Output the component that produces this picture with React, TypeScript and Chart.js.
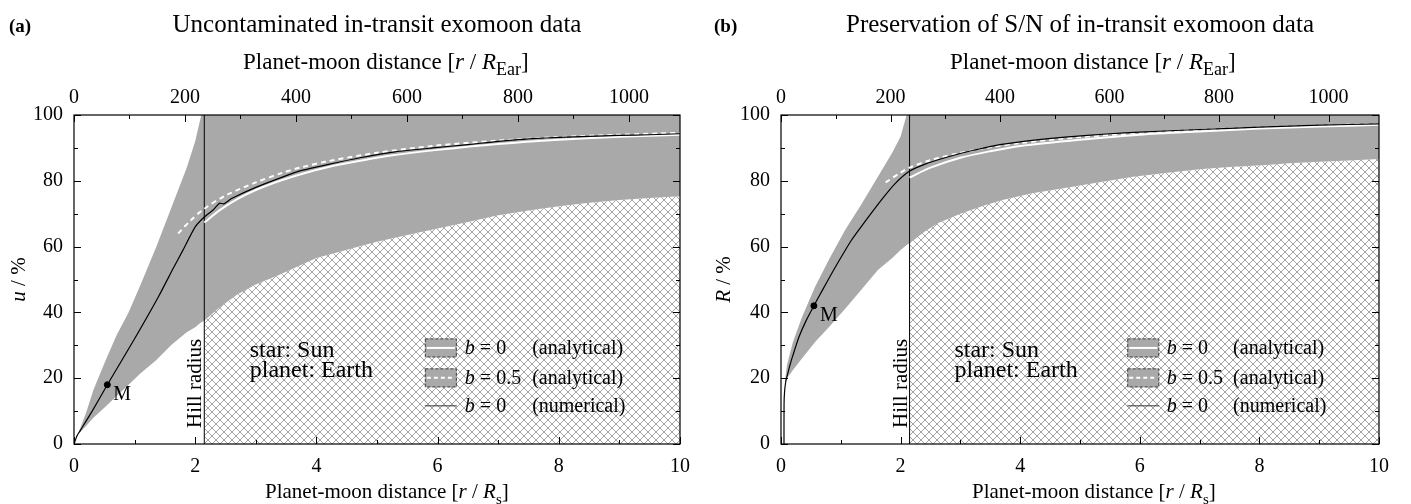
import React, { useEffect, useRef } from 'react';
import { Chart, registerables } from 'chart.js';
Chart.register(...registerables);

const SERIF = '"Liberation Serif", "Times New Roman", Times, serif';

// ---------- shared axis data ----------
const HILL_RADIUS = 2.15; // r / R_s
const SUN_IN_EARTH_RADII = 109.2; // top axis conversion
const xTicks = [0, 2, 4, 6, 8, 10];
const xMinorTicks = [1, 3, 5, 7, 9];
const topTicks = [0, 200, 400, 600, 800, 1000];
const topMinorTicks = [100, 300, 500, 700, 900];
const yTicks = [0, 20, 40, 60, 80, 100];
const yMinorTicks = [10, 30, 50, 70, 90];

// ---------- panel (a): uncontaminated data u ----------
const aBandX = [0, 0.07, 0.2, 0.32, 0.5, 0.7, 0.9, 1.1, 1.36, 1.6, 1.86, 2.0, 2.1, 2.15, 2.4, 2.7, 3.0, 3.4, 3.7, 4.0, 4.4, 4.7, 5.0, 5.5, 6.0, 6.5, 7.0, 7.5, 8.0, 8.5, 9.0, 9.5, 10];
const aBandUpper = [0, 3.2, 9.5, 16.4, 24.5, 33, 40, 48.5, 60, 71.5, 84, 92, 100, 100, 100, 100, 100, 100, 100, 100, 100, 100, 100, 100, 100, 100, 100, 100, 100, 100, 100, 100, 100];
const aBandLower = [0, 3, 5.5, 8, 11, 14.5, 18, 21.5, 25.5, 30, 34, 35.5, 37, 37.5, 41.5, 45.5, 48.5, 51.5, 54, 56.5, 58.5, 60, 61.5, 63.5, 65.5, 67.5, 69.5, 71, 72.3, 73.3, 74.2, 74.8, 75.3];
const aNumX = [0, 0.05, 0.1, 0.3, 0.55, 1.0, 1.4, 1.64, 1.8, 2.0, 2.15, 2.3, 2.4, 2.47, 2.6, 3.0, 3.45, 3.73, 4.2, 4.72, 5.3, 5.92, 6.5, 7.0, 7.57, 8.0, 8.5, 9.0, 9.5, 10];
const aNumY = [0, 2.5, 4, 10, 18, 32, 45, 53.5, 59, 66, 69, 71.2, 73.2, 73, 74.6, 78, 81.2, 83, 85, 87, 88.8, 90, 91, 92, 92.8, 93.2, 93.5, 93.8, 94, 94.3];
const aB0X = [2.15, 2.4, 2.7, 3.0, 3.4, 3.8, 4.2, 4.7, 5.2, 6.0, 7.0, 8.0, 9.0, 10];
const aB0Y = [67.3, 71, 74.5, 77.2, 80, 82.3, 84.2, 86, 87.6, 89.4, 91.2, 92.5, 93.4, 94];
const aB05X = [1.72, 1.9, 2.15, 2.5, 3.0, 3.45, 3.73, 4.2, 5.0, 5.92, 7.0, 8.0, 9.0, 10];
const aB05Y = [64, 67.5, 71.5, 75.5, 79.5, 82.5, 84, 86, 88.5, 90.6, 92.2, 93.3, 94, 94.6];
const aMoon = [0.55, 18];

// ---------- panel (b): preservation of S/N, R ----------
const bBandX = [0.06, 0.1, 0.2, 0.35, 0.57, 0.8, 1.07, 1.35, 1.62, 1.86, 2.0, 2.1, 2.15, 2.4, 2.63, 3.0, 3.4, 3.7, 4.2, 4.75, 5.3, 5.89, 6.5, 7.0, 7.5, 8.12, 8.5, 9.0, 9.5, 10];
const bBandUpper = [18, 24, 31, 38.5, 47.8, 56, 65, 73, 81.2, 88.5, 93.5, 100, 100, 100, 100, 100, 100, 100, 100, 100, 100, 100, 100, 100, 100, 100, 100, 100, 100, 100];
const bBandLower = [18, 20, 22.5, 26, 31, 35.5, 41, 47, 52.9, 56.5, 59, 60.5, 61, 64.5, 67.2, 70, 72.5, 74.2, 76.2, 77.8, 79.5, 81.2, 82.5, 83.5, 84.2, 84.8, 85.3, 85.8, 86.2, 86.6];
const bNumX = [0.05, 0.051, 0.06, 0.08, 0.1, 0.15, 0.2, 0.3, 0.42, 0.55, 0.7, 0.9, 1.18, 1.4, 1.68, 1.9, 2.14, 2.4, 2.8, 3.2, 3.66, 4.2, 4.75, 5.5, 6.0, 7.0, 8.0, 9.0, 10];
const bNumY = [0, 12, 16, 19, 20.5, 24, 27, 32.5, 37.5, 42, 47, 53.5, 62, 67.5, 74.2, 79, 82.8, 85, 87.3, 89.2, 91, 92.3, 93.3, 94.3, 94.8, 95.6, 96.3, 96.9, 97.3];
const bB0X = [2.15, 2.5, 3.0, 3.5, 4.0, 5.0, 6.0, 7.0, 8.0, 9.0, 10];
const bB0Y = [81, 84, 87, 89, 90.6, 92.5, 94, 95, 95.9, 96.5, 97];
const bB05X = [1.75, 2.0, 2.15, 2.5, 3.0, 3.5, 4.0, 5.0, 6.0, 7.0, 8.0, 9.0, 10];
const bB05Y = [79.5, 82.5, 84, 86.3, 88.5, 90.2, 91.5, 93.3, 94.5, 95.5, 96.2, 96.8, 97.3];
const bMoon = [0.55, 42];

const GRAY = '#a9a9a9';

type Seg = { t: string; i?: boolean; b?: boolean; sub?: boolean };

function fontFor(s: Seg, size: number, subRatio: number) {
  const sz = s.sub ? Math.round(size * subRatio) : size;
  return `${s.i ? 'italic ' : ''}${s.b ? 'bold ' : ''}${sz}px ${SERIF}`;
}

function drawRich(ctx: CanvasRenderingContext2D, segs: Seg[], x: number, y: number, size: number, align: 'left' | 'center', subRatio = 0.72) {
  ctx.textBaseline = 'alphabetic';
  ctx.textAlign = 'left';
  let w = 0;
  segs.forEach((s) => {
    ctx.font = fontFor(s, size, subRatio);
    w += ctx.measureText(s.t).width;
  });
  let cx = align === 'center' ? x - w / 2 : x;
  segs.forEach((s) => {
    ctx.font = fontFor(s, size, subRatio);
    ctx.fillText(s.t, cx, s.sub ? y + size * 0.28 : y);
    cx += ctx.measureText(s.t).width;
  });
}

type Spec = {
  letter: string;
  title: string;
  yVar: string;
  bandX: number[];
  bandUpper: number[];
  bandLower: number[];
  numX: number[];
  numY: number[];
  b0X: number[];
  b0Y: number[];
  b05X: number[];
  b05Y: number[];
  moon: number[];
  padLeft: number;
  padRight: number;
  width: number;
};

function makeHatch(): CanvasPattern | string {
  const c = document.createElement('canvas');
  c.width = 8;
  c.height = 8;
  const g = c.getContext('2d');
  if (!g) return '#fff';
  g.fillStyle = '#ffffff';
  g.fillRect(0, 0, 8, 8);
  g.strokeStyle = '#a4a4a4';
  g.lineWidth = 1;
  g.beginPath();
  g.moveTo(-1, -1);
  g.lineTo(9, 9);
  g.moveTo(9, -1);
  g.lineTo(-1, 9);
  g.stroke();
  return g.createPattern(c, 'repeat') || '#fff';
}

const pts = (xs: number[], ys: number[]) => xs.map((x, i) => ({ x, y: ys[i] }));

const PLOT_TOP = 115;
const PLOT_BOTTOM_GAP = 60;

function Panel({ spec, left }: { spec: Spec; left: number }) {
  const ref = useRef<HTMLCanvasElement>(null);
  useEffect(() => {
    const canvas = ref.current;
    if (!canvas) return;
    const hatch = makeHatch();
    const band = pts(spec.bandX, spec.bandLower);
    const hatchPts = band.filter((p) => p.x >= HILL_RADIUS);

    const decor = {
      id: 'decor',
      afterDatasetsDraw(chart: any) {
        const { ctx, chartArea: a, scales } = chart;
        const sx = scales.x;
        const sy = scales.y;
        const st = scales.x2;
        const cxm = (a.left + a.right) / 2;
        ctx.save();
        ctx.strokeStyle = '#000';
        // frame
        ctx.lineWidth = 1.2;
        ctx.strokeRect(a.left, a.top, a.right - a.left, a.bottom - a.top);
        ctx.lineWidth = 1;
        const seg = (x1: number, y1: number, x2: number, y2: number) => {
          ctx.beginPath();
          ctx.moveTo(x1, y1);
          ctx.lineTo(x2, y2);
          ctx.stroke();
        };
        const MAJ = 7;
        const MIN = 4;
        xTicks.forEach((v) => { const p = Math.round(sx.getPixelForValue(v)) + 0.5; seg(p, a.bottom, p, a.bottom - MAJ); });
        xMinorTicks.forEach((v) => { const p = Math.round(sx.getPixelForValue(v)) + 0.5; seg(p, a.bottom, p, a.bottom - MIN); });
        topTicks.forEach((v) => { const p = Math.round(st.getPixelForValue(v)) + 0.5; seg(p, a.top, p, a.top + MAJ); });
        topMinorTicks.forEach((v) => { const p = Math.round(st.getPixelForValue(v)) + 0.5; seg(p, a.top, p, a.top + MIN); });
        yTicks.forEach((v) => {
          const p = Math.round(sy.getPixelForValue(v)) + 0.5;
          seg(a.left, p, a.left + MAJ, p);
          seg(a.right, p, a.right - MAJ, p);
        });
        yMinorTicks.forEach((v) => {
          const p = Math.round(sy.getPixelForValue(v)) + 0.5;
          seg(a.left, p, a.left + MIN, p);
          seg(a.right, p, a.right - MIN, p);
        });

        ctx.fillStyle = '#000';
        // panel letter and title
        drawRich(ctx, [{ t: spec.letter, b: true }], 9, 32, 19, 'left');
        drawRich(ctx, [{ t: spec.title }], cxm, 32, 25, 'center');
        // top axis title
        drawRich(ctx, [{ t: 'Planet-moon distance [' }, { t: 'r', i: true }, { t: ' / ' }, { t: 'R', i: true }, { t: 'Ear', sub: true }, { t: ']' }], a.left + 169, 69, 23, 'left', 0.78);
        // bottom axis title
        drawRich(ctx, [{ t: 'Planet-moon distance [' }, { t: 'r', i: true }, { t: ' / ' }, { t: 'R', i: true }, { t: 's', sub: true }, { t: ']' }], a.left + 191, 498, 21, 'left');
        // y axis title (rotated)
        ctx.save();
        ctx.translate(25, (a.top + a.bottom) / 2);
        ctx.rotate(-Math.PI / 2);
        drawRich(ctx, [{ t: spec.yVar, i: true }, { t: ' / %' }], 0, 0, 21, 'center');
        ctx.restore();
        // Hill radius label
        const hx = sx.getPixelForValue(HILL_RADIUS);
        ctx.save();
        ctx.translate(hx - 3, a.bottom - 16);
        ctx.rotate(-Math.PI / 2);
        drawRich(ctx, [{ t: 'Hill radius' }], 0, 0, 21, 'left');
        ctx.restore();
        // Moon label
        const mx = sx.getPixelForValue(spec.moon[0]);
        const my = sy.getPixelForValue(spec.moon[1]);
        drawRich(ctx, [{ t: 'M' }], mx + 6, my + 15, 20, 'left');
        // star / planet
        const sxp = sx.getPixelForValue(2.9);
        drawRich(ctx, [{ t: 'star: Sun' }], sxp, sy.getPixelForValue(26.4), 24, 'left');
        drawRich(ctx, [{ t: 'planet: Earth' }], sxp, sy.getPixelForValue(20.3), 24, 'left');
        // legend
        const bx0 = sx.getPixelForValue(5.79);
        const bw = 32;
        const bh = 19;
        const rows = [29.2, 20.1, 11.6].map((v) => sy.getPixelForValue(v));
        [0, 1].forEach((k) => {
          const cy = rows[k];
          ctx.fillStyle = GRAY;
          ctx.fillRect(bx0, cy - bh / 2, bw, bh);
          ctx.strokeStyle = '#444';
          ctx.setLineDash([3, 2]);
          ctx.strokeRect(bx0 + 0.5, cy - bh / 2 + 0.5, bw - 1, bh - 1);
          ctx.strokeStyle = '#fff';
          ctx.lineWidth = 2;
          ctx.setLineDash(k === 0 ? [] : [4, 3]);
          seg(bx0 + 2, cy, bx0 + bw - 2, cy);
          ctx.setLineDash([]);
          ctx.lineWidth = 1;
        });
        ctx.strokeStyle = '#333';
        seg(bx0, rows[2], bx0 + bw, rows[2]);
        ctx.fillStyle = '#000';
        const tx = sx.getPixelForValue(6.45);
        const tx2 = sx.getPixelForValue(7.56);
        const labels: [string, string][] = [[' = 0', '(analytical)'], [' = 0.5', '(analytical)'], [' = 0', '(numerical)']];
        labels.forEach(([v, kind], k) => {
          drawRich(ctx, [{ t: 'b', i: true }, { t: v }], tx, rows[k] + 6, 20, 'left');
          drawRich(ctx, [{ t: kind }], tx2, rows[k] + 6, 20, 'left');
        });
        ctx.restore();
      },
    };

    const tickFont = { family: SERIF, size: 20 };
    const hidden = { display: false, drawTicks: false };
    const plain = (v: any) => String(v);
    const chart = new Chart(canvas, {
      type: 'line',
      data: {
        datasets: [
          { label: 'numerical', data: pts(spec.numX, spec.numY), borderColor: '#000', borderWidth: 1.2, pointRadius: 0, tension: 0.2, fill: false, order: 1 },
          { label: 'M', data: [{ x: spec.moon[0], y: spec.moon[1] }], showLine: false, pointRadius: 3, pointBackgroundColor: '#000', pointBorderColor: '#000', order: 0 },
          { label: 'b=0.5', data: pts(spec.b05X, spec.b05Y), borderColor: '#fff', borderWidth: 2, borderDash: [5, 4], pointRadius: 0, tension: 0.3, fill: false, order: 2 },
          { label: 'b=0', data: pts(spec.b0X, spec.b0Y), borderColor: '#fff', borderWidth: 2, pointRadius: 0, tension: 0.3, fill: false, order: 3 },
          { label: 'hill', data: [{ x: HILL_RADIUS, y: 0 }, { x: HILL_RADIUS, y: 100 }], borderColor: '#000', borderWidth: 1, pointRadius: 0, fill: false, order: 4 },
          { label: 'band upper', data: pts(spec.bandX, spec.bandUpper), borderWidth: 0, borderColor: 'rgba(0,0,0,0)', pointRadius: 0, fill: false, order: 6 },
          { label: 'band lower', data: band, borderWidth: 0, borderColor: 'rgba(0,0,0,0)', backgroundColor: GRAY, pointRadius: 0, fill: '-1', order: 5 },
          { label: 'hatch', data: hatchPts, borderWidth: 0, borderColor: 'rgba(0,0,0,0)', backgroundColor: hatch as any, pointRadius: 0, fill: 'origin', order: 7 },
        ],
      } as any,
      options: {
        animation: false,
        responsive: false,
        events: [],
        layout: { padding: { left: 0, right: spec.padRight, top: 0, bottom: 0 } },
        plugins: { legend: { display: false }, tooltip: { enabled: false }, title: { display: false } },
        scales: {
          x: {
            type: 'linear', position: 'bottom', min: 0, max: 10,
            afterBuildTicks: (s: any) => { s.ticks = xTicks.map((v) => ({ value: v })); },
            afterFit: (s: any) => { s.height = PLOT_BOTTOM_GAP; },
            ticks: { font: tickFont, color: '#000', padding: 11, maxRotation: 0, autoSkip: false, callback: plain },
            grid: hidden, border: { display: false },
          },
          x2: {
            type: 'linear', position: 'top', min: 0, max: 10 * SUN_IN_EARTH_RADII,
            afterBuildTicks: (s: any) => { s.ticks = topTicks.map((v) => ({ value: v })); },
            afterFit: (s: any) => { s.height = PLOT_TOP; },
            ticks: { font: tickFont, color: '#000', padding: 5, maxRotation: 0, autoSkip: false, callback: plain },
            grid: hidden, border: { display: false },
          },
          y: {
            type: 'linear', position: 'left', min: 0, max: 100,
            afterBuildTicks: (s: any) => { s.ticks = yTicks.map((v) => ({ value: v })); },
            afterFit: (s: any) => { s.width = spec.padLeft; },
            ticks: { font: tickFont, color: '#000', padding: 11, autoSkip: false, callback: plain },
            grid: hidden, border: { display: false },
          },
        },
      } as any,
      plugins: [decor],
    });
    return () => chart.destroy();
  }, [spec]);
  return (
    <div style={{ position: 'absolute', left, top: 0, width: spec.width, height: 504 }}>
      <canvas ref={ref} width={spec.width} height={504} style={{ width: spec.width, height: 504, display: 'block' }} />
    </div>
  );
}

const specA: Spec = {
  letter: '(a)', title: 'Uncontaminated in-transit exomoon data', yVar: 'u',
  bandX: aBandX, bandUpper: aBandUpper, bandLower: aBandLower,
  numX: aNumX, numY: aNumY, b0X: aB0X, b0Y: aB0Y, b05X: aB05X, b05Y: aB05Y, moon: aMoon,
  padLeft: 74, padRight: 25, width: 705,
};
const specB: Spec = {
  letter: '(b)', title: 'Preservation of S/N of in-transit exomoon data', yVar: 'R',
  bandX: bBandX, bandUpper: bBandUpper, bandLower: bBandLower,
  numX: bNumX, numY: bNumY, b0X: bB0X, b0Y: bB0Y, b05X: bB05X, b05Y: bB05Y, moon: bMoon,
  padLeft: 76, padRight: 32, width: 706,
};

export default function App() {
  return (
    <div style={{ position: 'absolute', left: 0, top: 0, width: 1411, height: 504, background: '#fff', overflow: 'hidden' }}>
      <Panel spec={specA} left={0} />
      <Panel spec={specB} left={705} />
    </div>
  );
}
